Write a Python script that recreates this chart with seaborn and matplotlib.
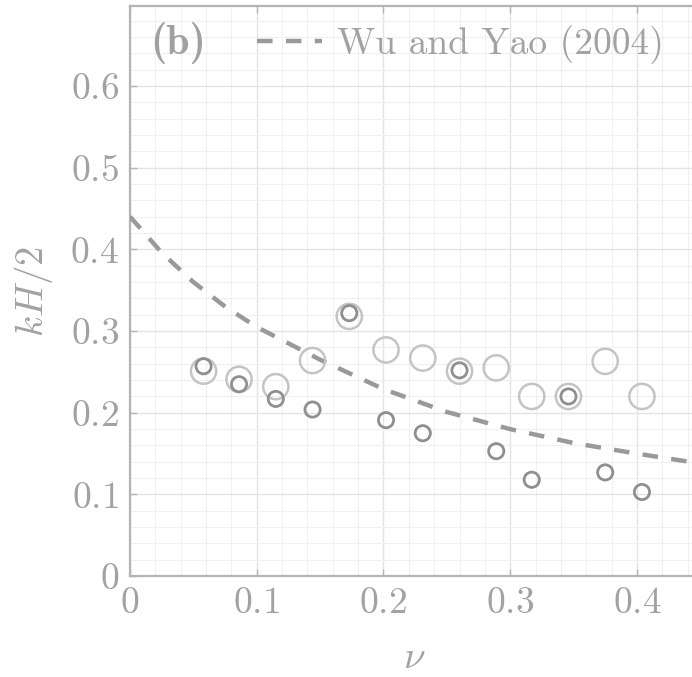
import numpy as np
import pandas as pd
import matplotlib
matplotlib.use("Agg")
import matplotlib.pyplot as plt
import seaborn as sns
from matplotlib.ticker import MultipleLocator, FixedLocator

# ---- data ----
nu = [0.058, 0.086, 0.115, 0.144, 0.173, 0.202, 0.231, 0.260, 0.289, 0.317, 0.346, 0.375, 0.404]
kh_large = [0.251, 0.241, 0.232, 0.264, 0.318, 0.277, 0.267, 0.251, 0.255, 0.220, 0.220, 0.263, 0.220]
kh_small = [0.257, 0.235, 0.217, 0.204, 0.322, 0.191, 0.175, 0.252, 0.153, 0.118, 0.220, 0.127, 0.103]

wy_nu = [0.0, 0.025, 0.05, 0.075, 0.10, 0.15, 0.20, 0.25, 0.30, 0.35, 0.40, 0.45]
wy_kh = [0.440, 0.396, 0.360, 0.330, 0.305, 0.265, 0.229, 0.201, 0.180, 0.163, 0.150, 0.138]

xticks = [0, 0.1, 0.2, 0.3, 0.4]
xticklabels = ["0", "0.1", "0.2", "0.3", "0.4"]
yticks = [0, 0.1, 0.2, 0.3, 0.4, 0.5, 0.6]
yticklabels = ["0", "0.1", "0.2", "0.3", "0.4", "0.5", "0.6"]
legend_label = "Wu and Yao (2004)"
panel_label = "(b)"

# ---- style ----
sns.set_theme(style="white")
plt.rcParams["mathtext.fontset"] = "cm"
plt.rcParams["font.family"] = ["cmr10", "DejaVu Serif"]
plt.rcParams["axes.unicode_minus"] = False

TXT = "#a2a2a2"
SPINE = "#b4b4b4"

fig = plt.figure(figsize=(6.92, 6.77), dpi=100)
ax = fig.add_axes([0.188, 0.149, 0.812, 0.842])

df_large = pd.DataFrame({"nu": nu, "kh": kh_large})
df_small = pd.DataFrame({"nu": nu, "kh": kh_small})
df_wy = pd.DataFrame({"nu": wy_nu, "kh": wy_kh})

sns.lineplot(data=df_wy, x="nu", y="kh", ax=ax, color="#999999", lw=3.2,
             linestyle=(0, (3.5, 3.0)), label=legend_label, zorder=3)
sns.scatterplot(data=df_large, x="nu", y="kh", ax=ax, s=330, facecolor="none",
                edgecolor="#c4c4c4", linewidth=1.8, zorder=4, legend=False)
sns.scatterplot(data=df_small, x="nu", y="kh", ax=ax, s=120, facecolor="none",
                edgecolor="#8f8f8f", linewidth=2.0, zorder=5, legend=False)

ax.set_xlim(0, 0.4435)
ax.set_ylim(0, 0.698)

ax.xaxis.set_major_locator(FixedLocator(xticks))
ax.yaxis.set_major_locator(FixedLocator(yticks))
ax.set_xticklabels([f"${t}$" for t in xticklabels])
ax.set_yticklabels([f"${t}$" for t in yticklabels])
ax.xaxis.set_minor_locator(MultipleLocator(0.02))
ax.yaxis.set_minor_locator(MultipleLocator(0.02))

ax.grid(which="major", color="#e4e4e4", lw=1.0)
ax.grid(which="minor", color="#f0f0f0", lw=0.8)
ax.set_axisbelow(True)

ax.tick_params(which="major", direction="in", length=5, width=1, color=SPINE,
               labelsize=27, labelcolor=TXT, top=True, bottom=True, left=True,
               right=False, pad=8)
ax.tick_params(which="minor", length=0)

for side in ["left", "bottom", "top"]:
    ax.spines[side].set_color(SPINE)
    ax.spines[side].set_linewidth(1.6)
ax.spines["right"].set_visible(False)

ax.set_xlabel(r"$\nu$", fontsize=28, color=TXT)
ax.set_ylabel(r"$kH/2$", fontsize=28, color=TXT)
ax.xaxis.set_label_coords(0.505, -0.113)
ax.yaxis.set_label_coords(-0.133, 0.50)

ax.text(0.035, 0.935, panel_label, transform=ax.transAxes, fontsize=30,
        color="#a0a0a0", family=["cmb10", "DejaVu Serif"], fontweight="bold",
        ha="left", va="center")

leg = ax.legend(loc="center left", bbox_to_anchor=(0.225, 0.932), frameon=False,
                fontsize=27, handlelength=1.75, handletextpad=0.4,
                borderaxespad=0, borderpad=0)
for t in leg.get_texts():
    t.set_color(TXT)

fig.savefig("out.png", dpi=100)
